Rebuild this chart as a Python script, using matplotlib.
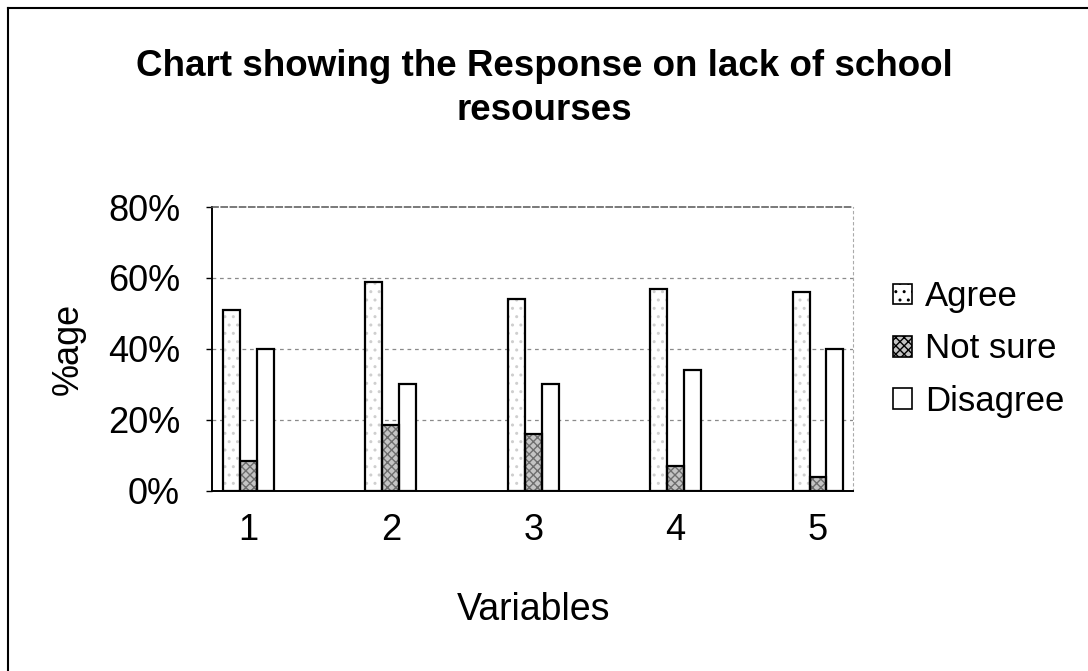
import numpy as np
import matplotlib
matplotlib.use("Agg")
import matplotlib.pyplot as plt
from matplotlib.lines import Line2D
from matplotlib.patches import Rectangle

# values (percent)
variables = ["1", "2", "3", "4", "5"]
agree = [51, 59, 54, 57, 56]
not_sure = [8.5, 18.5, 16, 7, 4]
disagree = [40, 30, 30, 34, 40]
series_names = ["Agree", "Not sure", "Disagree"]
y_ticks = [0, 20, 40, 60, 80]

plt.rcParams['font.family'] = ['Liberation Sans', 'DejaVu Sans']

fig = plt.figure(figsize=(10.88, 6.71), dpi=100)
ax = fig.add_axes([0.1949, 0.2683, 0.5891, 0.4232])

x = np.arange(1, len(variables) + 1)
w = 0.119

# series styles: face, hatch, hatch colour
styles = [
    ("white", "..", "#cfcfcf"),
    ("#c4c4c4", "xxxx", "#6e6e6e"),
    ("white", None, None),
]

for k, vals in enumerate([agree, not_sure, disagree]):
    face, hatch, hcol = styles[k]
    pos = x + (k - 1) * w
    if hatch:
        ax.bar(pos, vals, w, color=face, hatch=hatch, edgecolor=hcol,
               linewidth=0, zorder=2)
    else:
        ax.bar(pos, vals, w, color=face, linewidth=0, zorder=2)
    ax.bar(pos, vals, w, fill=False, edgecolor="black", linewidth=1.6, zorder=3)

ax.set_xlim(0.7437, 5.2458)
ax.set_ylim(0, 80)
ax.set_yticks(y_ticks)
ax.set_yticklabels([f"{v}%" for v in y_ticks], fontsize=26)
ax.set_xticks(x)
ax.set_xticklabels(variables, fontsize=26)
ax.tick_params(axis="x", length=0, pad=16)
ax.tick_params(axis="y", length=4, width=1, pad=19)

for v in y_ticks[1:-1]:
    ax.axhline(v, color="#8a8a8a", linestyle=(0, (3, 3)), linewidth=0.9, zorder=1)

ax.spines["left"].set_linewidth(1.4)
ax.spines["bottom"].set_linewidth(1.4)
ax.spines["top"].set_color("#555555")
ax.spines["top"].set_linestyle((0, (4, 2)))
ax.spines["top"].set_linewidth(1.1)
ax.spines["right"].set_color("#aaaaaa")
ax.spines["right"].set_linestyle((0, (2, 3)))
ax.spines["right"].set_linewidth(0.8)

ax.set_ylabel("%age", fontsize=26, va="center")
ax.yaxis.set_label_coords(-0.225, 0.5)
ax.set_xlabel("Variables", fontsize=27, va="center")
ax.xaxis.set_label_coords(0.502, -0.4205)

fig.text(0.5, 0.868, "Chart showing the Response on lack of school\nresourses",
         ha="center", va="center", fontsize=26.5, fontweight="bold",
         linespacing=1.36)

# legend
handles = []
for k, name in enumerate(series_names):
    face, hatch, hcol = styles[k]
    handles.append(Rectangle((0, 0), 1, 1, facecolor=face, hatch=hatch,
                             edgecolor="black", linewidth=1.2))
fig.legend(handles, series_names, loc="center left",
           bbox_to_anchor=(0.792, 0.48), frameon=False, fontsize=25,
           handlelength=0.55, handleheight=0.55, handletextpad=0.37,
           labelspacing=0.55)

# scanned frame edges (left and top)
fig.add_artist(Line2D([0.0075, 0.0075], [0, 0.988], color="black", linewidth=1.5))
fig.add_artist(Line2D([0.0075, 1.0], [0.988, 0.988], color="black", linewidth=1.5))

fig.savefig("out.png", dpi=100)
